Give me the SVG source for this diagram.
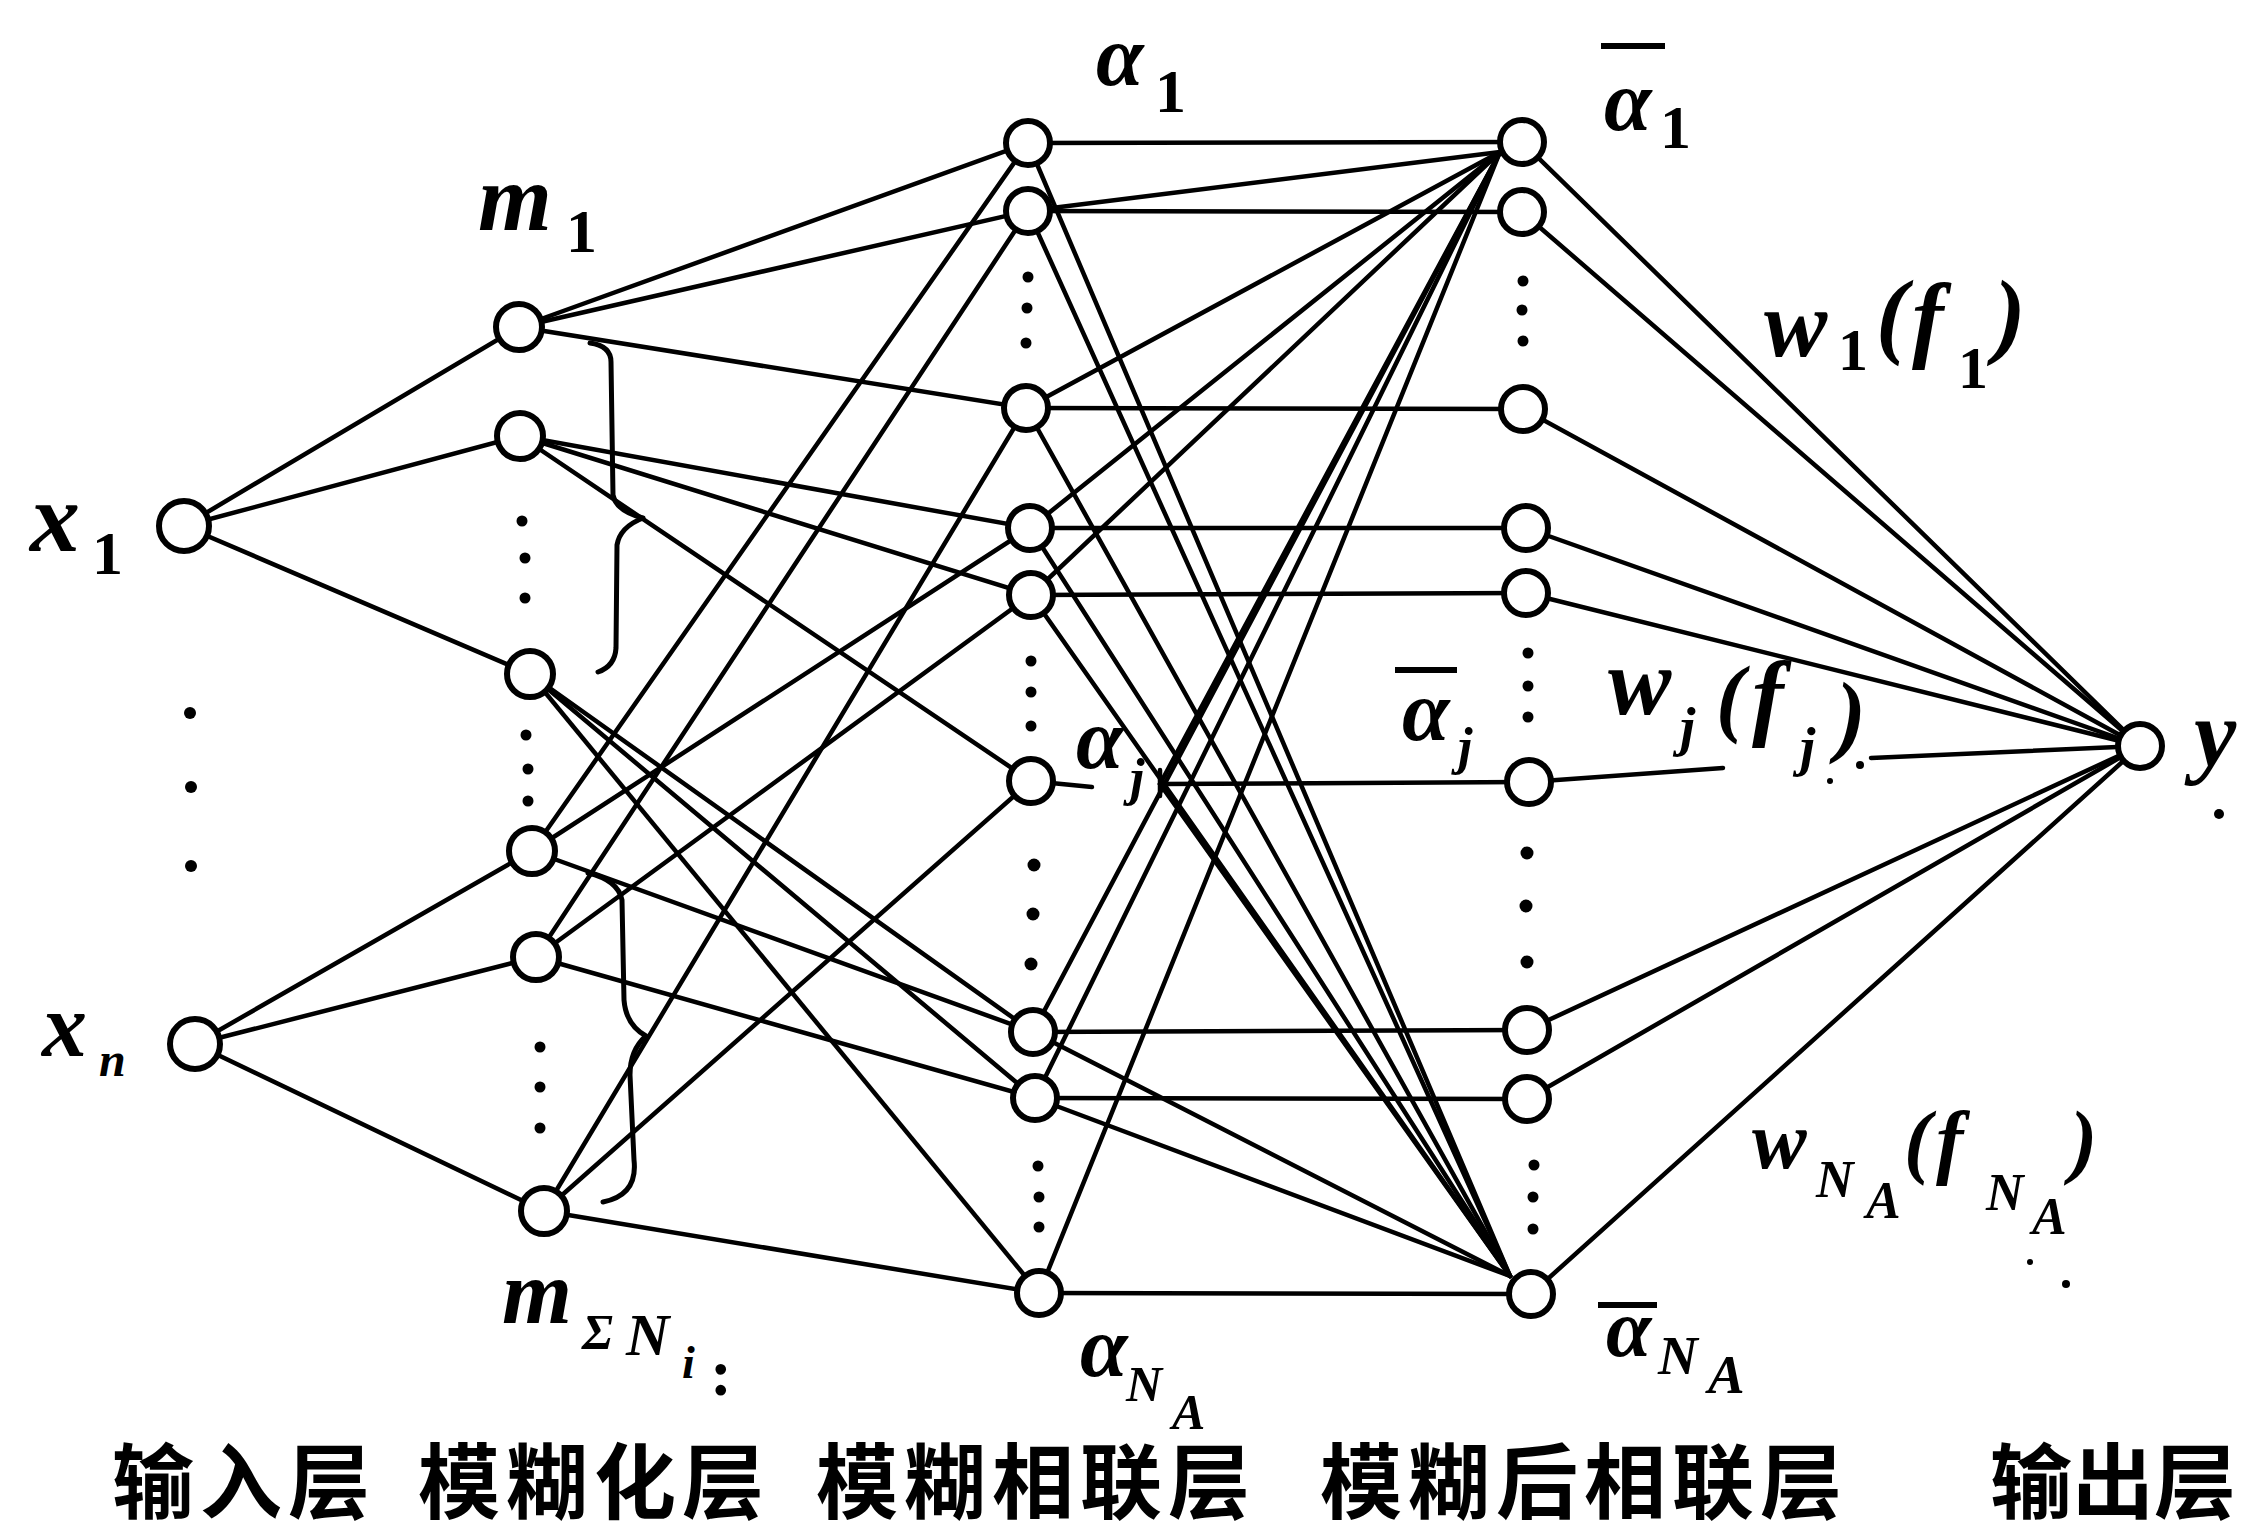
<svg xmlns="http://www.w3.org/2000/svg" width="2251" height="1529" viewBox="0 0 2251 1529">
<defs>
<style>
.e{stroke:#000;stroke-width:4.5;fill:none;stroke-linecap:round}
.br{stroke:#000;stroke-width:5;fill:none;stroke-linecap:round;stroke-linejoin:round}
.n{fill:#fff;stroke:#000;stroke-width:6}
.d{fill:#000}
.it{font-family:"Liberation Serif","DejaVu Serif",serif;font-style:italic;font-weight:bold;fill:#000}
.up{font-family:"Liberation Serif","DejaVu Serif",serif;font-weight:bold;fill:#000}
.bar{stroke:#000;stroke-width:6}
.cn{font-family:"Liberation Sans","Noto Sans CJK SC",sans-serif;font-size:82px;letter-spacing:6px;font-weight:bold;fill:#000}
</style>
</defs>
<rect width="2251" height="1529" fill="#fff"/>

<g id="connectors">
<!-- input -> fuzzification -->
<line class="e" x1="184" y1="526" x2="519" y2="327"/>
<line class="e" x1="184" y1="526" x2="520" y2="436"/>
<line class="e" x1="184" y1="526" x2="530" y2="674"/>
<line class="e" x1="195" y1="1044" x2="532" y2="851"/>
<line class="e" x1="195" y1="1044" x2="536" y2="957"/>
<line class="e" x1="195" y1="1044" x2="544" y2="1211"/>
<!-- fuzzification -> association -->
<line class="e" x1="519" y1="327" x2="1028" y2="143"/>
<line class="e" x1="519" y1="327" x2="1028" y2="211"/>
<line class="e" x1="519" y1="327" x2="1026" y2="408"/>
<line class="e" x1="520" y1="436" x2="1030" y2="528"/>
<line class="e" x1="520" y1="436" x2="1031" y2="595"/>
<line class="e" x1="520" y1="436" x2="1031" y2="781"/>
<line class="e" x1="530" y1="674" x2="1033" y2="1032"/>
<line class="e" x1="530" y1="674" x2="1035" y2="1098"/>
<line class="e" x1="530" y1="674" x2="1039" y2="1293"/>
<line class="e" x1="532" y1="851" x2="1028" y2="143"/>
<line class="e" x1="532" y1="851" x2="1030" y2="528"/>
<line class="e" x1="532" y1="851" x2="1033" y2="1032"/>
<line class="e" x1="536" y1="957" x2="1028" y2="211"/>
<line class="e" x1="536" y1="957" x2="1031" y2="595"/>
<line class="e" x1="536" y1="957" x2="1035" y2="1098"/>
<line class="e" x1="544" y1="1211" x2="1026" y2="408"/>
<line class="e" x1="544" y1="1211" x2="1031" y2="781"/>
<line class="e" x1="544" y1="1211" x2="1039" y2="1293"/>
<!-- association -> post-association: horizontals -->
<line class="e" x1="1028" y1="143" x2="1522" y2="142"/>
<line class="e" x1="1028" y1="211" x2="1522" y2="212"/>
<line class="e" x1="1026" y1="408" x2="1523" y2="409"/>
<line class="e" x1="1030" y1="528" x2="1526" y2="528"/>
<line class="e" x1="1031" y1="595" x2="1526" y2="593"/>
<line class="e" x1="1031" y1="781" x2="1092" y2="787"/>
<line class="e" x1="1160" y1="770" x2="1160" y2="796"/>
<line class="e" x1="1160" y1="784" x2="1529" y2="782"/>
<line class="e" x1="1033" y1="1032" x2="1527" y2="1030"/>
<line class="e" x1="1035" y1="1098" x2="1527" y2="1099"/>
<line class="e" x1="1039" y1="1293" x2="1531" y2="1294"/>
<!-- fan to first post-association node -->
<line class="e" x1="1028" y1="211" x2="1500" y2="152"/>
<line class="e" x1="1026" y1="408" x2="1500" y2="152"/>
<line class="e" x1="1030" y1="528" x2="1500" y2="152"/>
<line class="e" x1="1031" y1="595" x2="1500" y2="152"/>
<line class="e" x1="1160" y1="784" x2="1500" y2="152"/>
<line class="e" x1="1033" y1="1032" x2="1500" y2="152"/>
<line class="e" x1="1035" y1="1098" x2="1500" y2="152"/>
<line class="e" x1="1039" y1="1293" x2="1500" y2="152"/>
<!-- fan to last post-association node -->
<line class="e" x1="1028" y1="143" x2="1510" y2="1276"/>
<line class="e" x1="1028" y1="211" x2="1510" y2="1276"/>
<line class="e" x1="1026" y1="408" x2="1510" y2="1276"/>
<line class="e" x1="1030" y1="528" x2="1510" y2="1276"/>
<line class="e" x1="1031" y1="595" x2="1510" y2="1276"/>
<line class="e" x1="1160" y1="784" x2="1510" y2="1276"/>
<line class="e" x1="1033" y1="1032" x2="1510" y2="1276"/>
<line class="e" x1="1035" y1="1098" x2="1510" y2="1276"/>
<!-- post-association -> output -->
<line class="e" x1="1522" y1="142" x2="2140" y2="746"/>
<line class="e" x1="1522" y1="212" x2="2140" y2="746"/>
<line class="e" x1="1523" y1="409" x2="2140" y2="746"/>
<line class="e" x1="1526" y1="528" x2="2140" y2="746"/>
<line class="e" x1="1526" y1="593" x2="2140" y2="746"/>
<line class="e" x1="1529" y1="782" x2="1723" y2="768"/>
<line class="e" x1="1871" y1="758" x2="2140" y2="746"/>
<line class="e" x1="1527" y1="1030" x2="2140" y2="746"/>
<line class="e" x1="1527" y1="1099" x2="2140" y2="746"/>
<line class="e" x1="1531" y1="1294" x2="2140" y2="746"/>
<!-- braces -->
<path class="br" d="M 590 343 Q 611 346 611 362 L 613 495 Q 616 511 643 518 Q 620 527 617 545 L 616 648 Q 615 666 598 672"/>
<path class="br" d="M 588 873 Q 618 880 622 900 L 624 1000 Q 626 1025 646 1036 Q 630 1050 630 1075 L 634 1160 Q 638 1195 603 1202"/>
</g>

<g id="dots">
<circle class="d" cx="190" cy="713" r="6"/><circle class="d" cx="191" cy="787" r="6"/><circle class="d" cx="191" cy="866" r="6"/>
<circle class="d" cx="522" cy="521" r="5.5"/><circle class="d" cx="525" cy="558" r="5.5"/><circle class="d" cx="525" cy="598" r="5.5"/>
<circle class="d" cx="526" cy="735" r="5.5"/><circle class="d" cx="528" cy="769" r="5.5"/><circle class="d" cx="528" cy="801" r="5.5"/>
<circle class="d" cx="540" cy="1047" r="5.5"/><circle class="d" cx="540" cy="1087" r="5.5"/><circle class="d" cx="540" cy="1128" r="5.5"/>
<circle class="d" cx="1028" cy="277" r="5.5"/><circle class="d" cx="1027" cy="308" r="5.5"/><circle class="d" cx="1026" cy="343" r="5.5"/>
<circle class="d" cx="1031" cy="661" r="5.5"/><circle class="d" cx="1031" cy="692" r="5.5"/><circle class="d" cx="1031" cy="726" r="5.5"/>
<circle class="d" cx="1034" cy="865" r="6.5"/><circle class="d" cx="1033" cy="914" r="6.5"/><circle class="d" cx="1031" cy="964" r="6.5"/>
<circle class="d" cx="1038" cy="1166" r="5.5"/><circle class="d" cx="1039" cy="1197" r="5.5"/><circle class="d" cx="1039" cy="1227" r="5.5"/>
<circle class="d" cx="1523" cy="281" r="5.5"/><circle class="d" cx="1522" cy="310" r="5.5"/><circle class="d" cx="1523" cy="341" r="5.5"/>
<circle class="d" cx="1528" cy="653" r="5.5"/><circle class="d" cx="1528" cy="686" r="5.5"/><circle class="d" cx="1528" cy="717" r="5.5"/>
<circle class="d" cx="1527" cy="853" r="6.5"/><circle class="d" cx="1526" cy="906" r="6.5"/><circle class="d" cx="1527" cy="962" r="6.5"/>
<circle class="d" cx="1534" cy="1165" r="5.5"/><circle class="d" cx="1533" cy="1197" r="5.5"/><circle class="d" cx="1533" cy="1229" r="5.5"/>
</g>

<g id="node-x1"><circle class="n" cx="184" cy="526" r="25"/>
<text class="it" x="30" y="551" font-size="100">x</text><text class="up" x="92" y="574" font-size="62">1</text></g>
<g id="node-xn"><circle class="n" cx="195" cy="1044" r="25"/>
<text class="it" x="42" y="1056" font-size="90">x</text><text class="it" x="99" y="1076" font-size="48">n</text></g>

<g id="node-m1"><circle class="n" cx="519" cy="327" r="23"/>
<text class="it" x="478" y="230" font-size="95">m</text><text class="up" x="566" y="252" font-size="62">1</text></g>
<g id="node-m2"><circle class="n" cx="520" cy="436" r="23"/></g>
<g id="node-m3"><circle class="n" cx="530" cy="674" r="23"/></g>
<g id="node-m4"><circle class="n" cx="532" cy="851" r="23"/></g>
<g id="node-m5"><circle class="n" cx="536" cy="957" r="23"/></g>
<g id="node-m6"><circle class="n" cx="544" cy="1211" r="23"/>
<text class="it" x="502" y="1323" font-size="90">m</text><text class="it" x="582" y="1349" font-size="50">Σ</text><text class="it" x="626" y="1355" font-size="60">N</text><text class="it" x="682" y="1378" font-size="46">i</text><text class="up" x="710" y="1395" font-size="66">:</text></g>

<g id="node-a1"><circle class="n" cx="1028" cy="143" r="22"/>
<text class="it" x="1096" y="85" font-size="86">α</text><text class="up" x="1155" y="112" font-size="62">1</text></g>
<g id="node-a2"><circle class="n" cx="1028" cy="211" r="22"/></g>
<g id="node-a3"><circle class="n" cx="1026" cy="408" r="22"/></g>
<g id="node-a4"><circle class="n" cx="1030" cy="528" r="22"/></g>
<g id="node-a5"><circle class="n" cx="1031" cy="595" r="22"/></g>
<g id="node-aj"><circle class="n" cx="1031" cy="781" r="22"/>
<text class="it" x="1076" y="768" font-size="86">α</text><text class="it" x="1130" y="795" font-size="52">j</text></g>
<g id="node-a6"><circle class="n" cx="1033" cy="1032" r="22"/></g>
<g id="node-a7"><circle class="n" cx="1035" cy="1098" r="22"/></g>
<g id="node-aN"><circle class="n" cx="1039" cy="1293" r="22"/>
<text class="it" x="1080" y="1376" font-size="86">α</text><text class="it" x="1126" y="1401" font-size="50">N</text><text class="it" x="1172" y="1429" font-size="50">A</text></g>

<g id="node-b1"><circle class="n" cx="1522" cy="142" r="22"/>
<line class="bar" x1="1601" y1="46" x2="1665" y2="46"/>
<text class="it" x="1604" y="130" font-size="86">α</text><text class="up" x="1660" y="148" font-size="62">1</text></g>
<g id="node-b2"><circle class="n" cx="1522" cy="212" r="22"/></g>
<g id="node-b3"><circle class="n" cx="1523" cy="409" r="22"/></g>
<g id="node-b4"><circle class="n" cx="1526" cy="528" r="22"/></g>
<g id="node-b5"><circle class="n" cx="1526" cy="593" r="22"/></g>
<g id="node-bj"><circle class="n" cx="1529" cy="782" r="22"/>
<line class="bar" x1="1395" y1="670" x2="1457" y2="670"/>
<text class="it" x="1402" y="740" font-size="86">α</text><text class="it" x="1458" y="764" font-size="52">j</text></g>
<g id="node-b6"><circle class="n" cx="1527" cy="1030" r="22"/></g>
<g id="node-b7"><circle class="n" cx="1527" cy="1099" r="22"/></g>
<g id="node-bN"><circle class="n" cx="1531" cy="1294" r="22"/>
<line class="bar" x1="1598" y1="1305" x2="1657" y2="1305"/>
<text class="it" x="1606" y="1356" font-size="82">α</text><text class="it" x="1658" y="1374" font-size="55">N</text><text class="it" x="1708" y="1393" font-size="55">A</text></g>

<g id="node-y"><circle class="n" cx="2140" cy="746" r="22"/>
<text class="it" x="2194" y="766" font-size="95">y</text><circle class="d" cx="2219" cy="814" r="5"/></g>

<g id="weights">
<text class="it" x="1764" y="356" font-size="95">w</text><text class="up" x="1838" y="370" font-size="60">1</text>
<text class="it" x="1876" y="346" font-size="95">(</text><text class="it" x="1912" y="350" font-size="95">f</text><text class="up" x="1958" y="388" font-size="60">1</text><text class="it" x="1994" y="346" font-size="95">)</text>
<text class="it" x="1608" y="714" font-size="95">w</text><text class="it" x="1680" y="745" font-size="55">j</text>
<text class="it" x="1716" y="726" font-size="86">(</text><text class="it" x="1752" y="728" font-size="95">f</text><text class="it" x="1800" y="765" font-size="55">j</text><text class="it" x="1836" y="745" font-size="90">)</text>
<circle class="d" cx="1860" cy="765" r="4"/><circle class="d" cx="1830" cy="781" r="3"/>
<text class="it" x="1752" y="1168" font-size="82">w</text><text class="it" x="1816" y="1197" font-size="52">N</text><text class="it" x="1866" y="1218" font-size="52">A</text>
<text class="it" x="1904" y="1168" font-size="82">(</text><text class="it" x="1936" y="1168" font-size="82">f</text><text class="it" x="1986" y="1210" font-size="52">N</text><text class="it" x="2032" y="1234" font-size="52">A</text><text class="it" x="2070" y="1168" font-size="82">)</text>
<circle class="d" cx="2030" cy="1262" r="3"/><circle class="d" cx="2066" cy="1284" r="4"/>
</g>

<g id="layer-titles">
<text class="cn" x="112" y="1512">输入层</text>
<text class="cn" x="418" y="1512">模糊化层</text>
<text class="cn" x="816" y="1512">模糊相联层</text>
<text class="cn" x="1320" y="1512">模糊后相联层</text>
<text class="cn" x="1990" y="1512" style="letter-spacing:0">输出层</text>
</g>
</svg>
